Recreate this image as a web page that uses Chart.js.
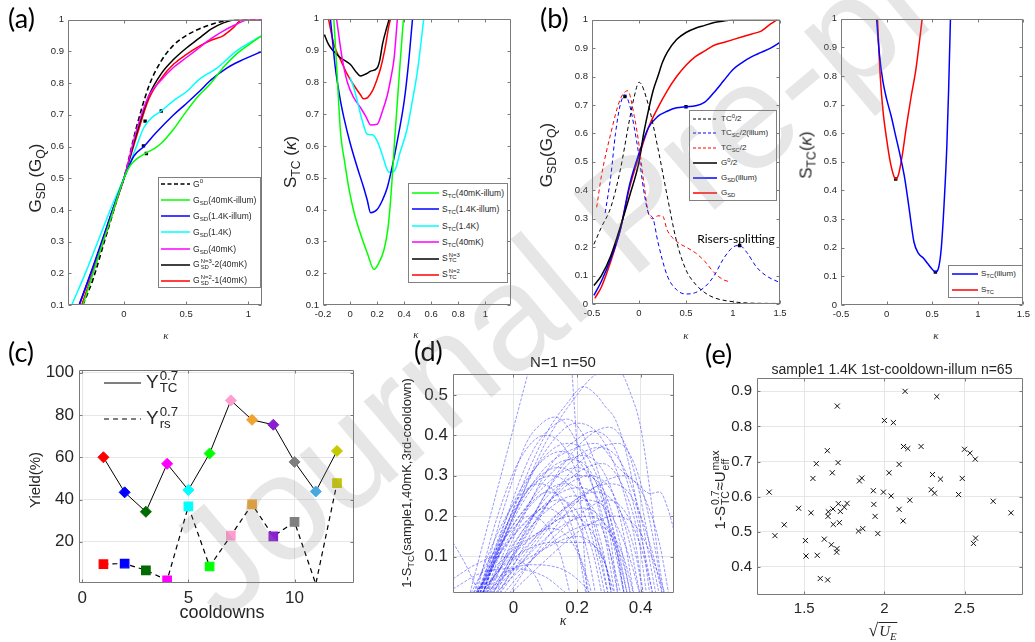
<!DOCTYPE html>
<html><head><meta charset="utf-8">
<script src="https://cdn.jsdelivr.net/npm/chart.js@4.4.1/dist/chart.umd.min.js"></script>
<style>
body{margin:0;width:1035px;height:642px;position:relative;overflow:hidden;background:#fff;font-family:"Liberation Sans",Arial,sans-serif;color:#262626}
canvas{position:absolute}
.t{position:absolute;white-space:nowrap;line-height:1}
.lab{position:absolute;font-family:Lato,"Open Sans",sans-serif;font-size:27px;color:#000;line-height:1}
.ss{display:inline-flex;flex-direction:column;vertical-align:middle;font-size:0.7em;line-height:0.95;margin-left:1px}
sub{font-size:0.72em;vertical-align:-0.35em;line-height:0}
sup{font-size:0.72em;vertical-align:0.55em;line-height:0}
.lg{position:absolute;box-sizing:border-box;color:#262626}
.lg.box{background:#fff;border:1px solid #808080}
.lg svg{position:absolute}
.lg .tx{position:absolute;white-space:nowrap;line-height:1;transform:translateY(-50%)}
.wm{position:absolute;white-space:nowrap;line-height:150px;font-size:150px;color:rgba(140,140,140,0.22);transform-origin:0 75px;transform:rotate(-40deg);pointer-events:none}
</style></head><body>
<script>
// ---- (a) left : G_SD vs kappa ----
const gG0 = [[-0.33,0.1],[-0.25,0.18],[-0.15,0.31],[-0.05,0.44],[0,0.5],[0.1,0.66],[0.2,0.79],[0.3,0.87],[0.4,0.92],[0.5,0.95],[0.6,0.97],[0.7,0.985],[0.8,0.995],[0.9,1.0],[1.11,1.0]];
const gIllum40 = [[-0.33,0.1],[-0.2,0.26],[-0.1,0.38],[0,0.5],[0.05,0.54],[0.1,0.56],[0.18,0.58],[0.25,0.595],[0.3,0.61],[0.4,0.655],[0.5,0.71],[0.6,0.76],[0.7,0.8],[0.8,0.85],[0.9,0.89],[1.0,0.92],[1.11,0.95]];
const gIllum14 = [[-0.36,0.1],[-0.25,0.22],[-0.1,0.39],[0,0.5],[0.08,0.57],[0.16,0.6],[0.25,0.64],[0.4,0.7],[0.5,0.735],[0.61,0.775],[0.7,0.81],[0.83,0.848],[0.93,0.869],[1.11,0.9]];
const g14 = [[-0.42,0.1],[-0.3,0.21],[-0.2,0.31],[-0.1,0.41],[0,0.5],[0.1,0.6],[0.16,0.66],[0.22,0.69],[0.3,0.712],[0.4,0.745],[0.51,0.775],[0.6,0.81],[0.75,0.848],[0.9,0.9],[1.0,0.925],[1.11,0.95]];
const g40 = [[-0.36,0.1],[-0.2,0.27],[-0.1,0.39],[0,0.5],[0.1,0.65],[0.2,0.76],[0.3,0.81],[0.4,0.85],[0.5,0.88],[0.6,0.91],[0.7,0.94],[0.8,0.965],[0.9,0.985],[1.0,1.0],[1.11,1.0]];
const gN3 = [[-0.36,0.1],[-0.2,0.27],[-0.1,0.39],[0,0.5],[0.1,0.64],[0.2,0.76],[0.3,0.83],[0.4,0.875],[0.5,0.91],[0.6,0.94],[0.7,0.97],[0.8,0.99],[0.9,1.0],[1.11,1.0]];
const gN2 = [[-0.34,0.1],[-0.2,0.26],[-0.1,0.38],[0,0.5],[0.1,0.63],[0.2,0.75],[0.3,0.815],[0.4,0.86],[0.5,0.89],[0.6,0.915],[0.7,0.935],[0.8,0.95],[0.88,0.975],[0.95,1.0],[1.11,1.0]];
const gMarks = [[0.18,0.578],[0.157,0.602],[0.3,0.712],[0.17,0.68]];

// ---- (a) right : S_TC vs kappa ----
const sIllum40 = [[-0.12,1],[-0.095,0.82],[-0.07,0.64],[-0.04,0.55],[-0.01,0.47],[0.03,0.39],[0.08,0.32],[0.13,0.26],[0.177,0.212],[0.21,0.23],[0.25,0.272],[0.28,0.34],[0.3,0.43],[0.33,0.62],[0.35,0.74],[0.37,0.86],[0.395,1.0]];
const sIllum14 = [[-0.145,1],[-0.11,0.85],[-0.07,0.74],[-0.046,0.69],[0,0.61],[0.053,0.533],[0.1,0.47],[0.127,0.43],[0.152,0.39],[0.2,0.4],[0.24,0.43],[0.276,0.47],[0.326,0.564],[0.36,0.64],[0.4,0.74],[0.43,0.85],[0.462,1.0]];
const s14 = [[0,0.815],[0.03,0.78],[0.06,0.73],[0.09,0.68],[0.127,0.637],[0.165,0.635],[0.2,0.616],[0.24,0.57],[0.27,0.53],[0.29,0.517],[0.326,0.52],[0.37,0.58],[0.42,0.65],[0.46,0.74],[0.5,0.84],[0.545,1.0]];
const s40 = [[-0.1,1],[-0.06,0.88],[-0.02,0.8],[0.03,0.75],[0.078,0.72],[0.12,0.69],[0.152,0.666],[0.2,0.668],[0.24,0.71],[0.276,0.76],[0.3,0.81],[0.326,0.877],[0.35,1.0]];
const sN3 = [[-0.19,0.95],[-0.16,0.92],[-0.133,0.903],[-0.07,0.877],[0.003,0.856],[0.05,0.83],[0.078,0.82],[0.12,0.827],[0.152,0.835],[0.2,0.845],[0.22,0.87],[0.24,0.92],[0.27,0.97],[0.29,1.0]];
const sN2 = [[-0.16,1],[-0.12,0.92],[-0.07,0.87],[-0.02,0.825],[0.03,0.79],[0.078,0.76],[0.1,0.748],[0.13,0.752],[0.165,0.773],[0.2,0.81],[0.227,0.846],[0.26,0.91],[0.288,0.98],[0.3,1.0]];

// ---- (b) left ----
const tc0Half = [[-0.48,0.21],[-0.4,0.27],[-0.3,0.34],[-0.2,0.47],[-0.1,0.65],[-0.05,0.73],[0,0.78],[0.1,0.7],[0.2,0.55],[0.3,0.38],[0.4,0.22],[0.5,0.12],[0.6,0.07],[0.7,0.04],[0.8,0.022],[1.0,0.008],[1.2,0.003],[1.5,0.002]];
const tcScIllum = [[-0.36,0.32],[-0.3,0.45],[-0.25,0.6],[-0.2,0.7],[-0.15,0.735],[-0.1,0.7],[-0.05,0.62],[0,0.52],[0.05,0.4],[0.1,0.32],[0.15,0.3],[0.2,0.22],[0.3,0.1],[0.4,0.05],[0.5,0.035],[0.6,0.04],[0.7,0.06],[0.8,0.1],[0.9,0.16],[1.0,0.2],[1.07,0.206],[1.15,0.18],[1.25,0.13],[1.35,0.1],[1.5,0.075]];
const tcSc = [[-0.45,0.34],[-0.4,0.45],[-0.3,0.6],[-0.2,0.72],[-0.12,0.75],[-0.05,0.66],[0,0.56],[0.05,0.43],[0.1,0.32],[0.15,0.3],[0.2,0.31],[0.25,0.31],[0.3,0.26],[0.4,0.22],[0.5,0.2],[0.6,0.18],[0.7,0.15],[0.8,0.11],[0.9,0.085],[0.97,0.078]];
const g0Half = [[-0.48,0.065],[-0.4,0.1],[-0.3,0.17],[-0.2,0.27],[-0.1,0.38],[0,0.5],[0.05,0.6],[0.1,0.68],[0.15,0.75],[0.2,0.8],[0.25,0.85],[0.3,0.885],[0.4,0.93],[0.5,0.955],[0.6,0.97],[0.7,0.98],[0.8,0.99],[0.9,0.995],[1.0,1.0],[1.5,1.0]];
const gsdIllum = [[-0.48,0.03],[-0.4,0.08],[-0.3,0.16],[-0.2,0.26],[-0.1,0.42],[0,0.53],[0.1,0.62],[0.2,0.66],[0.3,0.678],[0.4,0.69],[0.5,0.694],[0.6,0.697],[0.7,0.71],[0.8,0.745],[0.9,0.785],[1.0,0.825],[1.1,0.85],[1.2,0.87],[1.3,0.885],[1.4,0.9],[1.5,0.92]];
const gsdB = [[-0.47,0.02],[-0.4,0.06],[-0.3,0.15],[-0.2,0.26],[-0.1,0.41],[0,0.52],[0.1,0.62],[0.2,0.69],[0.3,0.75],[0.4,0.8],[0.5,0.84],[0.6,0.87],[0.7,0.89],[0.8,0.91],[0.9,0.92],[1.0,0.93],[1.1,0.94],[1.2,0.95],[1.3,0.96],[1.4,0.985],[1.47,1.0]];
const bMarks = [[-0.15,0.73],[0.5,0.694],[1.07,0.206]];

// ---- (b) right ----
const stcIllum = [[-0.11,1],[-0.08,0.88],[-0.04,0.78],[0,0.72],[0.05,0.66],[0.1,0.59],[0.15,0.52],[0.2,0.44],[0.25,0.33],[0.3,0.22],[0.35,0.18],[0.4,0.165],[0.45,0.145],[0.5,0.125],[0.535,0.115],[0.57,0.13],[0.6,0.2],[0.63,0.35],[0.66,0.55],[0.68,0.75],[0.7,1.0]];
const stcB = [[-0.1,1],[-0.07,0.8],[-0.04,0.68],[0,0.58],[0.04,0.5],[0.08,0.45],[0.1,0.44],[0.13,0.455],[0.17,0.52],[0.22,0.63],[0.27,0.73],[0.32,0.82],[0.36,0.92],[0.39,1.0]];
const bMarks2 = [[0.1,0.44],[0.535,0.115]];

// ---- (c) yield per cooldown ----
const cooldowns = [1,2,3,4,5,6,7,8,9,10,11,12];
const yieldTC = [60,43.4,34.2,56.9,44.5,61.8,86.9,77.7,75.4,57.8,43.8,63];
const yieldRS = [9.4,9.7,6.5,1.8,36.8,8.3,22.9,37.7,22.6,29.4,0,47.8];
const cdColors = ['#ff0000','#0000ff','#006b00','#ff00ff','#00ffff','#00ff00','#ff9ecf','#f0a330','#8a1fd0','#808080','#4aa8e0','#c8c800'];

// ---- (d) 1-S_TC curves, N=1 n=50 ----
const dCurves = [
 [[-0.14,0],[0.048,0.56]],
 [[0.184,0.56],[0.232,0]],
 [[-0.11,0],[0.0,0.2],[0.1,0.38],[0.2,0.5],[0.25,0.545],[0.3,0.56],[0.33,0.56],[0.37,0.5],[0.4,0.42],[0.43,0.26],[0.455,0.1],[0.475,0]],
 [[-0.1,0],[0.0,0.22],[0.1,0.4],[0.17,0.48],[0.22,0.52],[0.26,0.5],[0.29,0.47],[0.32,0.44],[0.36,0.34],[0.4,0.17],[0.43,0]],
 [[-0.1,0],[0.0,0.2],[0.1,0.32],[0.2,0.37],[0.26,0.38],[0.33,0.32],[0.39,0.28],[0.43,0.256],[0.46,0.26],[0.485,0.22],[0.51,0.15]],
 [[-0.11,0],[-0.03,0.22],[0.04,0.38],[0.09,0.43],[0.13,0.445],[0.18,0.41],[0.24,0.3],[0.29,0.14],[0.32,0]],
 [[-0.1,0],[-0.02,0.2],[0.06,0.36],[0.12,0.42],[0.17,0.44],[0.22,0.4],[0.27,0.3],[0.32,0.14],[0.35,0]],
 [[-0.12,0],[-0.05,0.2],[0.02,0.34],[0.1,0.4],[0.16,0.37],[0.22,0.26],[0.27,0.1],[0.3,0]],
 [[-0.09,0],[0.0,0.2],[0.1,0.36],[0.2,0.43],[0.27,0.4],[0.33,0.3],[0.38,0.15],[0.41,0]],
 [[-0.08,0],[0.02,0.18],[0.12,0.33],[0.2,0.39],[0.25,0.41],[0.31,0.38],[0.36,0.28],[0.41,0.12],[0.44,0]],
 [[-0.06,0],[0.05,0.18],[0.15,0.32],[0.24,0.4],[0.3,0.42],[0.35,0.38],[0.39,0.28],[0.43,0.12],[0.46,0]],
 [[-0.05,0],[0.05,0.15],[0.15,0.28],[0.25,0.36],[0.33,0.38],[0.38,0.33],[0.42,0.22],[0.45,0.1],[0.47,0]],
 [[-0.11,0],[-0.03,0.18],[0.05,0.3],[0.15,0.36],[0.22,0.32],[0.28,0.2],[0.33,0]],
 [[-0.1,0],[-0.02,0.16],[0.08,0.29],[0.18,0.34],[0.25,0.3],[0.3,0.18],[0.35,0]],
 [[-0.12,0],[-0.03,0.14],[0.08,0.26],[0.2,0.32],[0.27,0.27],[0.32,0.15],[0.36,0]],
 [[-0.09,0],[0.0,0.16],[0.1,0.29],[0.22,0.35],[0.29,0.3],[0.34,0.18],[0.38,0]],
 [[-0.12,0],[-0.04,0.15],[0.04,0.26],[0.12,0.3],[0.19,0.26],[0.25,0.14],[0.29,0]],
 [[-0.11,0],[-0.02,0.14],[0.07,0.24],[0.16,0.28],[0.23,0.24],[0.28,0.12],[0.31,0]],
 [[-0.08,0],[0.02,0.13],[0.13,0.25],[0.24,0.3],[0.31,0.26],[0.36,0.15],[0.4,0]],
 [[-0.07,0],[0.04,0.15],[0.16,0.28],[0.28,0.33],[0.34,0.28],[0.39,0.16],[0.42,0]],
 [[-0.06,0],[0.05,0.12],[0.16,0.22],[0.26,0.26],[0.33,0.22],[0.38,0.12],[0.41,0]],
 [[-0.1,0],[0.0,0.12],[0.1,0.21],[0.19,0.25],[0.25,0.22],[0.3,0.12],[0.34,0]],
 [[-0.12,0],[-0.03,0.12],[0.06,0.2],[0.14,0.24],[0.2,0.21],[0.25,0.11],[0.28,0]],
 [[-0.12,0],[-0.05,0.1],[0.03,0.18],[0.1,0.22],[0.16,0.19],[0.21,0.1],[0.25,0]],
 [[-0.09,0],[0.01,0.1],[0.12,0.18],[0.22,0.22],[0.28,0.19],[0.33,0.1],[0.36,0]],
 [[-0.04,0],[0.08,0.11],[0.2,0.2],[0.3,0.24],[0.36,0.2],[0.41,0.1],[0.44,0]],
 [[-0.11,0],[-0.02,0.09],[0.08,0.16],[0.18,0.2],[0.24,0.17],[0.29,0.08],[0.31,0]],
 [[-0.07,0],[0.04,0.08],[0.15,0.15],[0.25,0.18],[0.31,0.15],[0.35,0.07],[0.37,0]],
 [[-0.13,0],[-0.05,0.08],[0.04,0.14],[0.12,0.17],[0.18,0.14],[0.22,0.07],[0.24,0]],
 [[-0.1,0],[0.0,0.07],[0.1,0.12],[0.2,0.15],[0.26,0.12],[0.3,0.05],[0.31,0]],
 [[-0.11,0],[-0.04,0.07],[0.05,0.12],[0.12,0.135],[0.23,0.135],[0.28,0.1],[0.32,0]],
 [[-0.19,0.045],[-0.12,0.08],[-0.05,0.1],[0.02,0.09],[0.07,0.05],[0.1,0]],
 [[-0.19,0.135],[-0.15,0.08],[-0.12,0.03],[-0.1,0]],
 [[-0.19,0.02],[-0.1,0.06],[0.0,0.07],[0.1,0.05],[0.15,0.02],[0.18,0]],
 [[-0.15,0],[-0.05,0.05],[0.05,0.08],[0.15,0.07],[0.22,0.03],[0.25,0]],
 [[-0.13,0],[-0.06,0.14],[0.01,0.24],[0.08,0.28],[0.14,0.25],[0.2,0.13],[0.23,0]],
 [[-0.14,0],[-0.07,0.1],[0.0,0.17],[0.05,0.2],[0.1,0.18],[0.15,0.1],[0.18,0]],
 [[-0.07,0],[0.04,0.17],[0.15,0.31],[0.27,0.37],[0.34,0.33],[0.4,0.2],[0.45,0]],
 [[-0.02,0],[0.1,0.14],[0.22,0.25],[0.35,0.3],[0.41,0.25],[0.46,0.13],[0.49,0]],
 [[-0.1,0],[-0.01,0.12],[0.1,0.23],[0.2,0.27],[0.27,0.24],[0.32,0.13],[0.35,0]],
 [[-0.11,0],[-0.03,0.16],[0.06,0.28],[0.14,0.32],[0.21,0.28],[0.26,0.16],[0.3,0]],
 [[-0.08,0],[0.02,0.1],[0.13,0.2],[0.23,0.24],[0.3,0.21],[0.36,0.11],[0.4,0]],
 [[-0.1,0],[-0.02,0.18],[0.07,0.32],[0.17,0.38],[0.23,0.35],[0.29,0.22],[0.33,0]],
 [[-0.05,0],[0.06,0.12],[0.18,0.23],[0.3,0.28],[0.37,0.25],[0.43,0.13],[0.47,0]],
 [[-0.12,0],[-0.04,0.13],[0.04,0.22],[0.11,0.26],[0.17,0.23],[0.23,0.12],[0.26,0]],
 [[-0.08,0],[0.03,0.09],[0.14,0.17],[0.24,0.2],[0.3,0.17],[0.35,0.09],[0.38,0]],
 [[-0.02,0],[0.1,0.09],[0.22,0.17],[0.32,0.2],[0.39,0.17],[0.44,0.09],[0.48,0]],
 [[-0.09,0],[0.01,0.14],[0.12,0.26],[0.21,0.3],[0.28,0.27],[0.33,0.15],[0.37,0]]
];

// ---- (e) scatter, sample1 1.4K n=65 ----
const sqrtUE = [1.706,2.0,2.056,1.644,1.575,1.711,1.675,1.554,1.859,1.844,2.029,1.281,1.931,1.994,2.042,1.465,1.542,1.65,1.648,1.679,1.713,1.725,1.75,1.767,1.934,1.942,1.375,1.681,1.719,1.317,1.838,1.865,1.959,1.507,1.625,1.669,1.704,1.702,1.511,1.581,1.6,1.646,2.129,2.327,2.119,2.146,2.229,2.5,2.534,2.567,2.092,2.3,2.35,2.486,2.159,2.292,2.313,2.463,2.679,2.092,2.117,2.79,2.569,2.556];
const uEffMax = [0.858,0.817,0.811,0.731,0.694,0.697,0.668,0.652,0.653,0.645,0.668,0.613,0.617,0.613,0.602,0.567,0.554,0.557,0.544,0.565,0.58,0.558,0.57,0.581,0.578,0.544,0.52,0.521,0.526,0.489,0.502,0.509,0.495,0.475,0.479,0.463,0.452,0.442,0.431,0.433,0.367,0.363,0.9,0.885,0.743,0.737,0.743,0.735,0.724,0.707,0.692,0.663,0.65,0.652,0.59,0.62,0.61,0.606,0.587,0.564,0.531,0.554,0.482,0.467];

// tick labels
const ticksA1x = [0,0.5,1];
const ticksA2x = [-0.2,0,0.2,0.4,0.6,0.8,1];
const ticksAy = [0.1,0.2,0.3,0.4,0.5,0.6,0.7,0.8,0.9,1];
const ticksBx = [-0.5,0,0.5,1,1.5];
const ticksBy = [0,0.1,0.2,0.3,0.4,0.5,0.6,0.7,0.8,0.9,1];
const ticksCx = [0,5,10];
const ticksCy = [20,40,60,80,100];
const ticksDx = [0,0.2,0.4];
const ticksDy = [0.1,0.2,0.3,0.4,0.5];
const ticksEx = [1.5,2,2.5];
const ticksEy = [0.4,0.5,0.6,0.7,0.8,0.9];

// ---------- helpers ----------
const xy = arr => arr.map(p => ({x: p[0], y: p[1]}));
function curve(arr, color, w, dash) {
  return {data: xy(arr), borderColor: color, borderWidth: w, borderDash: dash || [],
    pointRadius: 0, cubicInterpolationMode: 'monotone', fill: false};
}
function marks(arr) {
  return {data: xy(arr), showLine: false, pointStyle: 'rect', pointRadius: 2.4,
    pointBackgroundColor: '#000', pointBorderColor: '#000', pointBorderWidth: 0};
}
function axis(min, max, ticks, size, grid) {
  return {type: 'linear', min: min, max: max,
    afterBuildTicks: s => { s.ticks = ticks.map(v => ({value: v})); },
    ticks: {font: {family: 'Liberation Sans', size: size}, color: '#262626', padding: size > 12 ? 5 : 4,
      autoSkip: false, maxRotation: 0, callback: v => String(v)},
    grid: {display: !!grid, color: '#e6e6e6', drawTicks: false},
    border: {display: false}};
}
// box frame with inward tick marks
const frame = {id: 'frame', afterDraw(ch) {
  const {ctx, chartArea: a} = ch, sx = ch.scales.x, sy = ch.scales.y;
  const L = Math.round(a.left) + 0.5, R = Math.round(a.right) - 0.5, T = Math.round(a.top) + 0.5, B = Math.round(a.bottom) - 0.5;
  ctx.save(); ctx.strokeStyle = '#7a7a7a'; ctx.lineWidth = 1; ctx.beginPath();
  ctx.rect(L, T, R - L, B - T);
  sx.ticks.forEach(t => { const p = Math.round(sx.getPixelForValue(t.value)) + 0.5;
    ctx.moveTo(p, B); ctx.lineTo(p, B - 3); ctx.moveTo(p, T); ctx.lineTo(p, T + 3); });
  sy.ticks.forEach(t => { const p = Math.round(sy.getPixelForValue(t.value)) + 0.5;
    ctx.moveTo(L, p); ctx.lineTo(L + 3, p); ctx.moveTo(R, p); ctx.lineTo(R - 3, p); });
  ctx.stroke(); ctx.restore();
}};
// box = [left, top, right, bottom] of plot area, pad = [l, t, r, b]
function panel(box, pad, datasets, xAx, yAx) {
  const w = box[2] - box[0] + pad[0] + pad[2], h = box[3] - box[1] + pad[1] + pad[3];
  const c = document.createElement('canvas');
  c.width = w; c.height = h;
  c.style.left = (box[0] - pad[0]) + 'px'; c.style.top = (box[1] - pad[1]) + 'px';
  document.body.appendChild(c);
  xAx.afterFit = s => { s.height = pad[3]; };
  yAx.afterFit = s => { s.width = pad[0]; };
  return new Chart(c, {type: 'line', data: {datasets: datasets},
    options: {responsive: false, animation: false, devicePixelRatio: 1,
      layout: {padding: {left: 0, top: pad[1], right: pad[2], bottom: 0}},
      plugins: {legend: {display: false}, tooltip: {enabled: false}},
      scales: {x: xAx, y: yAx}},
    plugins: [frame]});
}
function txt(html, cx, cy, size, rot, extra) {
  const d = document.createElement('div'); d.className = 't';
  d.innerHTML = html;
  d.style.cssText += `left:${cx}px;top:${cy}px;font-size:${size}px;transform:translate(-50%,-50%)${rot ? ' rotate(-90deg)' : ''};` + (extra || '');
  document.body.appendChild(d);
}
function label(s, x, y) {
  const d = document.createElement('div'); d.className = 'lab'; d.textContent = s;
  d.style.left = x + 'px'; d.style.top = y + 'px'; document.body.appendChild(d);
}
const ss = (up, dn) => `<span class="ss"><span>${up}</span><span>${dn}</span></span>`;
// legend: b = [l,t,r,b]; rows = [html, color, dash]; o = {y0, dy, s0, s1, tx, size, lw, box}
function legend(b, rows, o) {
  const d = document.createElement('div');
  d.className = 'lg' + (o.box === false ? '' : ' box');
  d.style.cssText += `left:${b[0]}px;top:${b[1]}px;width:${b[2] - b[0]}px;height:${b[3] - b[1]}px;font-size:${o.size}px`;
  let h = '';
  rows.forEach((r, i) => {
    const y = o.y0 + i * o.dy - b[1] - 1, len = o.s1 - o.s0;
    h += `<svg style="left:${o.s0 - b[0] - 1}px;top:${y - 3}px" width="${len}" height="6"><line x1="0" y1="3" x2="${len}" y2="3" stroke="${r[1]}" stroke-width="${r[2] ? o.lwd : o.lw}"${r[2] ? ` stroke-dasharray="${r[2]}"` : ''}/></svg>`;
    h += `<div class="tx" style="left:${o.tx - b[0] - 1}px;top:${y}px">${r[0]}</div>`;
  });
  d.innerHTML = h;
  document.body.appendChild(d);
}

const fAB = 9.5;
const padAB = [40, 8, 14, 20];

// (a) left
panel([68, 18, 262, 305], padAB, [
  curve(gIllum40, '#00ff00', 1.5), curve(gIllum14, '#0000ff', 1.5), curve(g14, '#00ffff', 1.5),
  curve(g40, '#ff00ff', 1.5), curve(gN3, '#000000', 1.5), curve(gN2, '#ff0000', 1.5),
  curve(gG0, '#000000', 1.6, [5, 3]), marks(gMarks)
], axis(-0.45, 1.11, ticksA1x, fAB), axis(0.1, 1, ticksAy, fAB));

// (a) right
panel([323, 17, 511, 305], padAB, [
  curve(sIllum40, '#00ff00', 1.5), curve(sIllum14, '#0000ff', 1.5), curve(s14, '#00ffff', 1.5),
  curve(s40, '#ff00ff', 1.5), curve(sN3, '#000000', 1.5), curve(sN2, '#ff0000', 1.5)
], axis(-0.2, 1.19, ticksA2x, fAB), axis(0.1, 1, ticksAy, fAB));

// (b) left
panel([592, 18, 780, 304], padAB, [
  curve(tc0Half, '#000000', 1, [4, 3]), curve(tcScIllum, '#0000ff', 1, [4, 3]), curve(tcSc, '#ff0000', 1, [4, 3]),
  curve(g0Half, '#000000', 1.5), curve(gsdIllum, '#0000ff', 1.5), curve(gsdB, '#ff0000', 1.5), marks(bMarks)
], axis(-0.5, 1.5, ticksBx, fAB), axis(0, 1, ticksBy, fAB));

// (b) right
panel([841, 17, 1029, 305], [40, 8, 5, 20], [
  curve(stcIllum, '#0000ff', 1.5), curve(stcB, '#ff0000', 1.5), marks(bMarks2)
], axis(-0.5, 1.5, ticksBx, fAB), axis(0, 1, ticksBy, fAB));

// (c)
panel([79, 365, 354, 583], [50, 10, 14, 30], [
  {data: cooldowns.map((c, i) => ({x: c, y: yieldTC[i]})), borderColor: '#000', borderWidth: 1,
    pointStyle: 'rectRot', pointRadius: 5.5, pointBackgroundColor: cdColors, pointBorderColor: cdColors},
  {data: cooldowns.map((c, i) => ({x: c, y: yieldRS[i]})), borderColor: '#000', borderWidth: 1.2, borderDash: [5, 4],
    pointStyle: 'rect', pointRadius: c => (c.raw && c.raw.y < 0.5 ? 0 : 6), pointBackgroundColor: cdColors, pointBorderColor: cdColors}
], axis(-0.15, 12.8, ticksCx, 17, true), axis(0.5, 101.2, ticksCy, 17, true));

// (d)
panel([453, 369, 674, 593], [50, 10, 14, 30],
  dCurves.map(cv => curve(cv, 'rgba(25,25,255,0.5)', 0.9, [3, 1.5])),
  axis(-0.19, 0.505, ticksDx, 17, true), axis(0.01, 0.551, ticksDy, 17, true));

// (e)
panel([757, 374, 1023, 595], [50, 10, 10, 30], [
  {data: sqrtUE.map((v, i) => ({x: v, y: uEffMax[i]})), showLine: false, pointStyle: 'crossRot',
    pointRadius: 3.6, pointBorderColor: '#111', pointBorderWidth: 1}
], axis(1.205, 2.865, ticksEx, 15, true), axis(0.32, 0.938, ticksEy, 15, true));

// legends
legend([158, 177, 261, 288], [
  ['G<sup>0</sup>', '#000', '4,2.5'],
  ['G<sub>SD</sub>(40mK-illum)', '#00ff00'],
  ['G<sub>SD</sub>(1.4K-illum)', '#0000ff'],
  ['G<sub>SD</sub>(1.4K)', '#00ffff'],
  ['G<sub>SD</sub>(40mK)', '#ff00ff'],
  ['G' + ss('N=3', 'SD') + '-2(40mK)', '#000'],
  ['G' + ss('N=2', 'SD') + '-1(40mK)', '#ff0000']
], {y0: 183.5, dy: 16.3, s0: 161, s1: 190, tx: 193, size: 8.5, lw: 1.5, lwd: 1.6});
legend([408, 183, 508, 283], [
  ['S<sub>TC</sub>(40mK-illum)', '#00ff00'],
  ['S<sub>TC</sub>(1.4K-illum)', '#0000ff'],
  ['S<sub>TC</sub>(1.4K)', '#00ffff'],
  ['S<sub>TC</sub>(40mK)', '#ff00ff'],
  ['S' + ss('N=3', 'TC'), '#000'],
  ['S' + ss('N=2', 'TC'), '#ff0000']
], {y0: 192.5, dy: 16.5, s0: 412, s1: 439, tx: 442, size: 8.5, lw: 1.5});
legend([689, 110, 777, 201], [
  ['TC<sup>0</sup>/2', '#000', '3,2'],
  ['TC<sub>SC</sub>/2(illum)', '#0000ff', '3,2'],
  ['TC<sub>SC</sub>/2', '#ff0000', '3,2'],
  ['G<sup>0</sup>/2', '#000'],
  ['G<sub>SD</sub>(illum)', '#0000ff'],
  ['G<sub>SD</sub>', '#ff0000']
], {y0: 118.5, dy: 14.9, s0: 693, s1: 717, tx: 721, size: 8, lw: 1.5, lwd: 1});
legend([948, 265, 1023, 298], [
  ['S<sub>TC</sub>(illum)', '#0000ff'],
  ['S<sub>TC</sub>', '#ff0000']
], {y0: 274, dy: 15.5, s0: 952, s1: 978, tx: 981, size: 8, lw: 1.5});
legend([100, 370, 200, 435], [
  ['Y' + ss('0.7', 'TC'), '#000'],
  ['Y' + ss('0.7', 'rs'), '#000', '5,4']
], {y0: 383.5, dy: 36, s0: 105, s1: 142, tx: 147, size: 19, lw: 1, lwd: 1.2, box: false});

// axis titles
txt('G<sub>SD</sub> (G<sub>Q</sub>)', 35, 178, 17, true);
txt('S<sub>TC</sub> (<i>κ</i>)', 290, 162, 17, true);
txt('G<sub>SD</sub>(G<sub>Q</sub>)', 546, 155, 17, true);
txt('S<sub>TC</sub>(<i>κ</i>)', 806, 155, 17, true);
txt('Yield(%)', 34, 480, 15, true);
txt('1-S<sub>TC</sub>(sample1,40mK,3rd-cooldown)', 406, 483, 13, true);
txt('1-S' + ss('0.7', 'TC') + '≈U' + ss('max', 'eff'), 721, 490, 15, true);
txt('cooldowns', 222, 612, 18, false);
txt('<i>κ</i>', 563, 621, 14, false, 'font-family:"Liberation Serif"');
txt('<span style="font-size:18px">√</span><span style="border-top:1px solid #262626;font-style:italic;padding:0 1px">U<sub>E</sub></span>', 883, 630, 15, false, 'font-family:"Liberation Serif"');
txt('N=1 n=50', 563, 361, 15, false);
txt('sample1 1.4K 1st-cooldown-illum n=65', 892, 369, 14, false);
[[166, 335], [416, 334], [686, 335], [936, 335]].forEach(p => txt('<i>κ</i>', p[0], p[1], 11, false, 'font-family:"Liberation Serif"'));
txt('Risers-splitting', 736, 239, 12, false, 'font-family:Lato,"Open Sans",sans-serif;color:#000');

label('(a)', 8, 4); label('(b)', 540, 4); label('(c)', 8, 338); label('(d)', 414, 337); label('(e)', 705, 340);

// watermark
const wm = document.createElement('div'); wm.className = 'wm'; wm.textContent = 'Journal Pre-proof';
wm.style.left = '188px'; wm.style.top = '509px';
document.body.appendChild(wm);
</script>
</body></html>
